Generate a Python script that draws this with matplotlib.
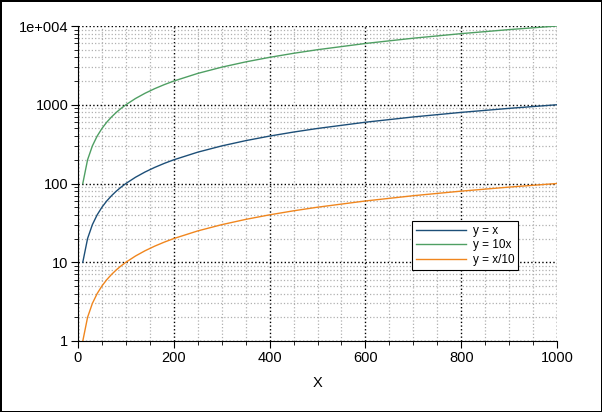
import matplotlib
matplotlib.use('Agg')
from matplotlib import pyplot as plt
from matplotlib.ticker import MultipleLocator, LogLocator, FixedLocator, FixedFormatter, NullFormatter

plt.rcParams['font.family'] = ['Liberation Sans', 'DejaVu Sans']

# data
x = [10, 20, 30, 40, 50, 60, 70, 80, 90, 100, 120, 140, 160, 180, 200,
     250, 300, 350, 400, 450, 500, 600, 700, 800, 900, 1000]
y_x = [10, 20, 30, 40, 50, 60, 70, 80, 90, 100, 120, 140, 160, 180, 200,
       250, 300, 350, 400, 450, 500, 600, 700, 800, 900, 1000]
y_10x = [100, 200, 300, 400, 500, 600, 700, 800, 900, 1000, 1200, 1400, 1600, 1800, 2000,
         2500, 3000, 3500, 4000, 4500, 5000, 6000, 7000, 8000, 9000, 10000]
y_x10 = [1, 2, 3, 4, 5, 6, 7, 8, 9, 10, 12, 14, 16, 18, 20,
         25, 30, 35, 40, 45, 50, 60, 70, 80, 90, 100]

y_ticks = [1, 10, 100, 1000, 10000]
y_tick_labels = ['1', '10', '100', '1000', '1e+004']

fig = plt.figure(figsize=(6.02, 4.12), dpi=100, linewidth=2, edgecolor='black')
ax = fig.add_axes([78/602, 71/412, 479/602, 315/412])

ax.plot(x, y_x, color='#1d4f78', lw=1, label='y = x')
ax.plot(x, y_10x, color='#4f9f63', lw=1, label='y = 10x')
ax.plot(x, y_x10, color='#f0861e', lw=1, label='y = x/10')

ax.set_yscale('log')
ax.set_xlim(0, 1000)
ax.set_ylim(1, 10000)

ax.xaxis.set_major_locator(MultipleLocator(200))
ax.xaxis.set_minor_locator(MultipleLocator(50))
ax.yaxis.set_major_locator(FixedLocator(y_ticks))
ax.yaxis.set_major_formatter(FixedFormatter(y_tick_labels))
ax.yaxis.set_minor_locator(LogLocator(base=10, subs=range(2, 10)))
ax.yaxis.set_minor_formatter(NullFormatter())

ax.grid(which='major', color='black', linestyle=':', linewidth=1)
ax.grid(which='minor', color='#b0b0b0', linestyle=':', linewidth=0.9)
ax.set_axisbelow(True)

for s in ['top', 'right']:
    ax.spines[s].set_visible(False)
ax.tick_params(which='major', direction='out', length=5, labelsize=10.5, colors='black', pad=2)
ax.tick_params(which='minor', direction='out', length=3)

ax.set_xlabel('X', fontsize=10.5, labelpad=8)

leg = ax.legend(loc='upper left', bbox_to_anchor=(0.697, 0.381), fontsize=8.5,
                fancybox=False, framealpha=1, edgecolor='black', handlelength=4.2,
                borderpad=0.35, labelspacing=0.2, handletextpad=0.6, borderaxespad=0)
leg.get_frame().set_linewidth(0.8)

fig.savefig('out.png', dpi=100)
